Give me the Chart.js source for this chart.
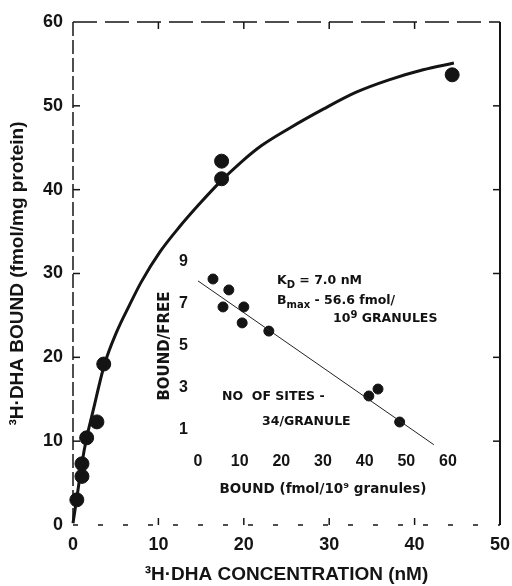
<!DOCTYPE html>
<html>
<head>
<meta charset="utf-8">
<script src="https://cdn.jsdelivr.net/npm/chart.js@4.4.1/dist/chart.umd.min.js"></script>
<style>
  html, body { margin: 0; padding: 0; background: #fff; }
  #wrap { position: relative; width: 512px; height: 586px; overflow: hidden; }
  #main { position: absolute; left: 0; top: 0; }
  #inset { position: absolute; left: 140px; top: 230px; }
  .note { position: absolute; font: bold 12.5px "DejaVu Sans", sans-serif; color: #111; white-space: nowrap; line-height: 1; }
  .note sub { font-size: 0.8em; vertical-align: -0.35em; line-height: 0; }
  .note sup { font-size: 0.8em; vertical-align: 0.45em; line-height: 0; }
</style>
</head>
<body>
<div id="wrap">
  <canvas id="main" width="512" height="586"></canvas>
  <canvas id="inset" width="340" height="280"></canvas>
  <div class="note" style="left:277px;top:274px">K<sub>D</sub> = 7.0 nM</div>
  <div class="note" style="left:277px;top:294px">B<sub>max</sub> - 56.6 fmol/</div>
  <div class="note" style="left:333px;top:312px">10<sup>9</sup> GRANULES</div>
  <div class="note" style="left:222px;top:390px">NO&nbsp; OF SITES -</div>
  <div class="note" style="left:262px;top:415px">34/GRANULE</div>
</div>
<script>
// ---------- data ----------
// saturation curve: 3H-DHA concentration (nM) vs bound (fmol/mg protein)
const CURVE_CONC  = [0, 0.5, 1.05, 1.6, 2.3, 3.7, 5.1, 6.6, 8.0, 10.2, 12.5, 14.9, 17.2, 19.6, 22.0, 25.3, 29.3, 33.1, 37.0, 41.0, 44.6];
const CURVE_BOUND = [0.2, 3.6, 7.4, 10.4, 13.4, 19.2, 23.0, 26.2, 29.0, 32.6, 35.6, 38.4, 40.9, 43.2, 45.2, 47.3, 49.6, 51.6, 53.1, 54.3, 55.1];
// measured points
const PT_CONC  = [0.45, 1.05, 1.05, 1.6, 2.8, 3.6, 17.4, 17.4, 44.4];
const PT_BOUND = [3.0, 5.8, 7.3, 10.4, 12.3, 19.2, 43.4, 41.3, 53.7];
const X_TICKS = [0, 10, 20, 30, 40, 50];
const Y_TICKS = [0, 10, 20, 30, 40, 50, 60];

// Scatchard inset: bound (fmol/10^9 granules) vs bound/free
const SC_BOUND = [3.6, 7.4, 6.0, 11.0, 10.6, 17.0, 41.0, 43.2, 48.4];
const SC_RATIO = [8.19, 7.67, 6.86, 6.86, 6.1, 5.71, 2.62, 2.95, 1.38];
const FIT_BOUND = [0, 56.6];
const FIT_RATIO = [8.1, 0.3];
const SC_X_TICKS = [0, 10, 20, 30, 40, 50, 60];
const SC_Y_TICKS = [1, 3, 5, 7, 9];

function pts(xs, ys){ return xs.map((x,i) => ({x, y: ys[i]})); }
function setTicks(list){ return scale => { scale.ticks = list.map(v => ({value: v})); }; }
function noOverhang(size, key){
  return s => { s[key] = size; s.paddingLeft = s.paddingRight = s.paddingTop = s.paddingBottom = 0; };
}

const INK = '#141414';
const SANS = '"Liberation Sans", Arial, sans-serif';

// frame drawn like the scanned original: broken left/top/bottom, solid right,
// short tick marks pointing into the plot on all four sides
const frameAndTicks = {
  id: 'frameAndTicks',
  afterDraw(chart){
    const {ctx, chartArea: a, scales: {x, y}} = chart;
    const seg = (x1, y1, x2, y2, dash) => {
      ctx.setLineDash(dash); ctx.beginPath(); ctx.moveTo(x1, y1); ctx.lineTo(x2, y2); ctx.stroke();
    };
    ctx.save();
    ctx.strokeStyle = INK; ctx.lineWidth = 1.5;
    seg(a.left, a.top, a.left, a.bottom, [14, 4]);
    seg(a.left, a.top, a.right, a.top, [24, 8]);
    seg(a.left, a.bottom, a.right, a.bottom, [5, 20]);
    ctx.lineWidth = 2;
    seg(a.right, a.top, a.right, a.bottom, []);
    ctx.lineWidth = 1.5;
    X_TICKS.slice(1, -1).forEach(v => {
      const px = x.getPixelForValue(v);
      seg(px, a.bottom, px, a.bottom - 7, []);
      seg(px, a.top, px, a.top + 7, []);
    });
    Y_TICKS.slice(1, -1).forEach(v => {
      const py = y.getPixelForValue(v);
      seg(a.left, py, a.left + 7, py, []);
      seg(a.right, py, a.right - 7, py, []);
    });
    ctx.restore();
  }
};

// ---------- main chart ----------
new Chart(document.getElementById('main'), {
  data: {
    datasets: [
      { type: 'line', data: pts(CURVE_CONC, CURVE_BOUND), borderColor: INK, borderWidth: 3,
        pointRadius: 0, cubicInterpolationMode: 'monotone', fill: false, clip: false },
      { type: 'scatter', data: pts(PT_CONC, PT_BOUND), backgroundColor: INK, borderColor: INK,
        pointRadius: 7, pointHoverRadius: 7, clip: false }
    ]
  },
  options: {
    responsive: false, animation: false, events: [],
    layout: { padding: { top: 22, right: 12, left: 0, bottom: 0 } },
    plugins: { legend: { display: false }, tooltip: { enabled: false } },
    scales: {
      x: {
        type: 'linear', position: 'bottom', min: 0, max: 50,
        afterBuildTicks: setTicks(X_TICKS),
        afterFit: noOverhang(61, 'height'),
        border: { display: false },
        grid: { display: false, drawTicks: false },
        ticks: { color: INK, padding: 9, font: { family: SANS, size: 18, weight: 'bold' } },
        title: { display: true, text: '³H·DHA CONCENTRATION (nM)', color: INK,
                 padding: { top: 0, bottom: 0 }, font: { family: SANS, size: 19, weight: 'bold' } }
      },
      y: {
        type: 'linear', position: 'left', min: 0, max: 60,
        afterBuildTicks: setTicks(Y_TICKS),
        afterFit: noOverhang(73, 'width'),
        border: { display: false },
        grid: { display: false, drawTicks: false },
        ticks: { color: INK, padding: 10, font: { family: SANS, size: 18, weight: 'bold' } },
        title: { display: true, text: '³H·DHA BOUND (fmol/mg protein)', color: INK,
                 padding: { top: 6, bottom: 0 }, font: { family: SANS, size: 19, weight: 'bold' } }
      }
    }
  },
  plugins: [frameAndTicks]
});

// ---------- Scatchard inset ----------
new Chart(document.getElementById('inset'), {
  data: {
    datasets: [
      { type: 'line', data: pts(FIT_BOUND, FIT_RATIO), borderColor: '#222', borderWidth: 1,
        pointRadius: 0, fill: false, clip: false },
      { type: 'scatter', data: pts(SC_BOUND, SC_RATIO), backgroundColor: INK, borderColor: INK,
        pointRadius: 5, pointHoverRadius: 5, clip: false }
    ]
  },
  options: {
    responsive: false, animation: false, events: [],
    layout: { padding: { top: 11, right: 32, left: 0, bottom: 0 } },
    plugins: { legend: { display: false }, tooltip: { enabled: false } },
    scales: {
      x: {
        type: 'linear', min: 0, max: 60,
        afterBuildTicks: setTicks(SC_X_TICKS),
        afterFit: noOverhang(59, 'height'),
        border: { display: false },
        grid: { display: false, drawTicks: false },
        ticks: { color: INK, padding: 1, font: { family: SANS, size: 16, weight: 'bold' } },
        title: { display: true, text: 'BOUND (fmol/10⁹ granules)', color: INK,
                 padding: { top: 0, bottom: 12 }, font: { family: '"DejaVu Sans", sans-serif', size: 13.5, weight: 'bold' } }
      },
      y: {
        type: 'linear', min: 0, max: 10,
        afterBuildTicks: setTicks(SC_Y_TICKS),
        afterFit: noOverhang(58, 'width'),
        border: { display: false },
        grid: { display: false, drawTicks: false },
        ticks: { color: INK, padding: 10, font: { family: SANS, size: 16, weight: 'bold' } },
        title: { display: true, text: 'BOUND/FREE', color: INK,
                 padding: { top: 16, bottom: 0 }, font: { family: '"DejaVu Sans", sans-serif', size: 15, weight: 'bold' } }
      }
    }
  }
});
</script>
</body>
</html>
